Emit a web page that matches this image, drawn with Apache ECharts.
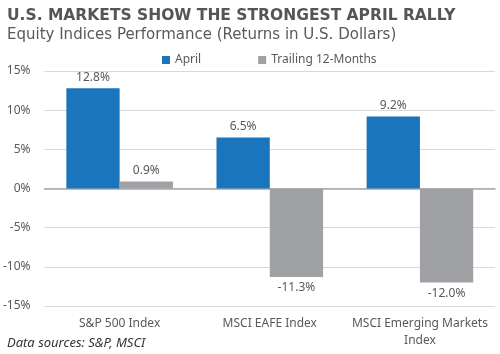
<!DOCTYPE html>
<html>
<head>
<meta charset="utf-8">
<script src="https://cdn.jsdelivr.net/npm/echarts@6/dist/echarts.min.js"></script>
<style>
  html, body { margin: 0; padding: 0; background: #fff; }
  #chart { width: 500px; height: 354px; }
</style>
</head>
<body>
<div id="chart"></div>
<script>
const categories = ['S&P 500 Index', 'MSCI EAFE Index', 'MSCI Emerging Markets\nIndex'];
const aprilValues = [12.8, 6.5, 9.2];
const trailingValues = [0.9, -11.3, -12.0];
const seriesNames = ['April', 'Trailing 12-Months'];

const textColor = '#595959';
const font = 'Noto Sans';

const chart = echarts.init(document.getElementById('chart'));

const labelFmt = (p) => p.value.toFixed(1) + '%';

chart.setOption({
  animation: false,
  color: ['#1B75BC', '#A0A1A4'],
  title: [
    {
      text: 'U.S. MARKETS SHOW THE STRONGEST APRIL RALLY',
      left: 2,
      top: 3,
      textStyle: { fontFamily: 'DejaVu Sans', fontWeight: 'bold', fontSize: 15.5, color: '#555555' }
    },
    {
      text: 'Equity Indices Performance (Returns in U.S. Dollars)',
      left: 2,
      top: 23,
      textStyle: { fontFamily: 'DejaVu Sans', fontWeight: 'normal', fontSize: 15, color: '#595959' }
    },
    {
      text: 'Data sources: S&P, MSCI',
      left: 2,
      top: 332,
      textStyle: { fontFamily: font, fontStyle: 'italic', fontWeight: 'normal', fontSize: 13, color: '#333333' }
    }
  ],
  legend: {
    data: seriesNames,
    top: 49,
    left: 157,
    itemWidth: 8,
    itemHeight: 8,
    itemGap: 57,
    icon: 'rect',
    textStyle: { fontFamily: font, fontSize: 12, color: textColor }
  },
  grid: { left: 43, right: 5, top: 71, bottom: 48 },
  xAxis: [
    {
      type: 'category',
      data: categories,
      axisLine: { show: false, onZero: false },
      axisTick: { show: false },
      axisLabel: {
        interval: 0,
        hideOverlap: false,
        fontFamily: font,
        fontSize: 12,
        color: textColor,
        margin: 9,
        lineHeight: 17
      }
    },
    {
      type: 'category',
      data: categories,
      position: 'bottom',
      axisLine: { show: true, onZero: true, lineStyle: { color: '#A6A6A6', width: 1.5 } },
      axisTick: { show: false },
      axisLabel: { show: false }
    }
  ],
  yAxis: {
    type: 'value',
    min: -15,
    max: 15,
    interval: 5,
    axisLine: { show: false },
    axisTick: { show: false },
    axisLabel: { fontFamily: font, fontSize: 12, color: textColor, margin: 14, formatter: '{value}%' },
    splitLine: { lineStyle: { color: '#D9D9D9', width: 1 } }
  },
  series: [
    {
      name: seriesNames[0],
      type: 'bar',
      data: aprilValues,
      barGap: 0,
      barCategoryGap: '29%',
      label: { show: true, position: 'top', formatter: labelFmt, fontFamily: font, fontSize: 12, color: textColor }
    },
    {
      name: seriesNames[1],
      type: 'bar',
      // negative bars get their labels underneath
      data: trailingValues.map((v) => ({ value: v, label: { position: v < 0 ? 'bottom' : 'top' } })),
      barGap: 0,
      barCategoryGap: '29%',
      label: { show: true, formatter: labelFmt, fontFamily: font, fontSize: 12, color: textColor }
    }
  ]
});
</script>
</body>
</html>
